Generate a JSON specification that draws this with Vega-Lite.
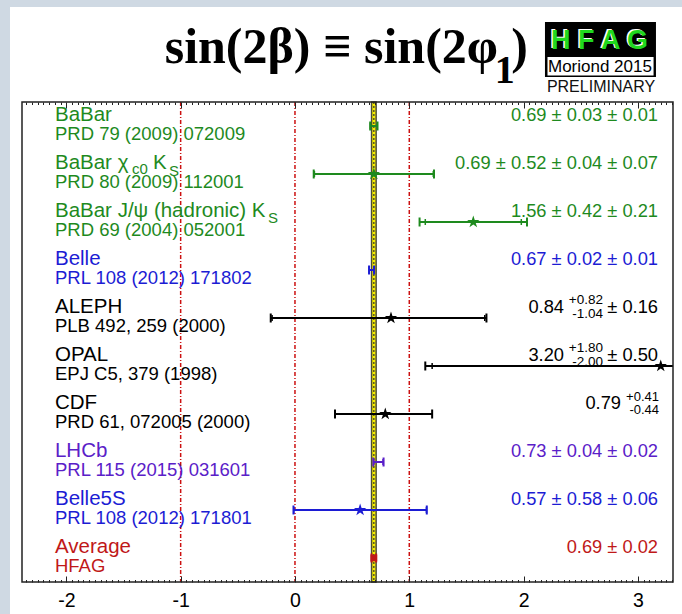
{
  "$schema": "https://vega.github.io/schema/vega-lite/v6.json",
  "width": 651,
  "height": 480,
  "autosize": {"type": "none"},
  "padding": {"left": 22, "top": 102, "right": 9, "bottom": 32},
  "background": "#cfd9e3",
  "config": {"view": {"stroke": null}, "text": {"font": "Liberation Sans"}},
  "data": {
    "values": [
      {"row": 1, "exp": "BaBar", "name": "BaBar", "ref": "PRD 79 (2009) 072009", "value": 0.69, "lo": 0.658, "hi": 0.722, "slo": 0.66, "shi": 0.72, "tail": "0.69 ± 0.03 ± 0.01", "main": "", "ss": "", "n1": "", "n2": "", "n3": ""},
      {"row": 2, "exp": "BaBar", "name": "BaBar χ", "ref": "PRD 80 (2009) 112001", "value": 0.69, "lo": 0.164, "hi": 1.216, "slo": 0.17, "shi": 1.21, "tail": "0.69 ± 0.52 ± 0.04 ± 0.07", "main": "", "ss": "", "n1": "c0", "n2": "K", "n3": "S"},
      {"row": 3, "exp": "BaBar", "name": "BaBar J/ψ (hadronic) K", "ref": "PRD 69 (2004) 052001", "value": 1.56, "lo": 1.09, "hi": 2.03, "slo": 1.14, "shi": 1.98, "tail": "1.56 ± 0.42 ± 0.21", "main": "", "ss": "", "n1": "", "n2": "", "n3": "S"},
      {"row": 4, "exp": "Belle", "name": "Belle", "ref": "PRL 108 (2012) 171802", "value": 0.67, "lo": 0.648, "hi": 0.692, "slo": 0.65, "shi": 0.69, "tail": "0.67 ± 0.02 ± 0.01", "main": "", "ss": "", "n1": "", "n2": "", "n3": ""},
      {"row": 5, "exp": "ALEPH", "name": "ALEPH", "ref": "PLB 492, 259 (2000)", "value": 0.84, "lo": -0.212, "hi": 1.675, "slo": -0.2, "shi": 1.66, "tail": "± 0.16", "main": "0.84", "ss": "+0.82\n-1.04", "n1": "", "n2": "", "n3": ""},
      {"row": 6, "exp": "OPAL", "name": "OPAL", "ref": "EPJ C5, 379 (1998)", "value": 3.2, "lo": 1.14, "hi": 5.07, "slo": 1.2, "shi": 5.0, "tail": "± 0.50", "main": "3.20", "ss": "+1.80\n-2.00", "n1": "", "n2": "", "n3": ""},
      {"row": 7, "exp": "CDF", "name": "CDF", "ref": "PRD 61, 072005 (2000)", "value": 0.79, "lo": 0.35, "hi": 1.2, "slo": null, "shi": null, "tail": "", "main": "0.79", "ss": "+0.41\n-0.44", "n1": "", "n2": "", "n3": ""},
      {"row": 8, "exp": "LHCb", "name": "LHCb", "ref": "PRL 115 (2015) 031601", "value": 0.73, "lo": 0.685, "hi": 0.775, "slo": 0.69, "shi": 0.77, "tail": "0.73 ± 0.04 ± 0.02", "main": "", "ss": "", "n1": "", "n2": "", "n3": ""},
      {"row": 9, "exp": "Belle", "name": "Belle5S", "ref": "PRL 108 (2012) 171801", "value": 0.57, "lo": -0.013, "hi": 1.153, "slo": -0.01, "shi": 1.15, "tail": "0.57 ± 0.58 ± 0.06", "main": "", "ss": "", "n1": "", "n2": "", "n3": ""},
      {"row": 10, "exp": "Average", "name": "Average", "ref": "HFAG", "value": 0.69, "lo": 0.67, "hi": 0.71, "slo": null, "shi": null, "tail": "0.69 ± 0.02", "main": "", "ss": "", "n1": "", "n2": "", "n3": ""}
    ]
  },
  "layer": [
    {
      "data": {"values": [{}]},
      "mark": {"type": "rect", "fill": "#ffffff"},
      "encoding": {
        "x": {"datum": -2.493, "type": "quantitative", "scale": {"domain": [-2.388, 3.307], "nice": false, "zero": false}, "axis": null},
        "x2": {"datum": 3.7},
        "y": {"datum": -1.48, "type": "quantitative", "scale": {"domain": [0.5, 10.5], "reverse": true, "nice": false, "zero": false}, "axis": null},
        "y2": {"datum": 11.5}
      }
    },
    {
      "data": {"values": [{"v": -1}, {"v": 0}, {"v": 1}]},
      "mark": {"type": "rule", "color": "#cc1111", "strokeDash": [4, 2, 1, 2], "strokeWidth": 1.5},
      "encoding": {
        "x": {"field": "v", "type": "quantitative", "axis": {
          "orient": "bottom", "title": null, "tickCount": 120, "domain": false, "grid": false, "zindex": 2,
          "labelExpr": "abs(datum.value - round(datum.value)) < 0.001 ? '' + round(datum.value) : ''",
          "labelOverlap": false, "labelFlush": false, "labelFont": "Liberation Sans", "labelFontSize": 19.5, "labelColor": "#000000", "labelPadding": 15,
          "tickColor": "#222222", "tickWidth": 1,
          "tickSize": {"condition": {"test": "abs(datum.value - round(datum.value)) < 0.001", "value": -6}, "value": -2.5}
        }},
        "y": {"datum": 0.5, "type": "quantitative", "axis": null},
        "y2": {"datum": 10.5}
      }
    },
    {
      "data": {"values": [{}]},
      "mark": {"type": "rect", "fill": "#f7ef00", "stroke": "#4d4d38", "strokeWidth": 1.5},
      "encoding": {
        "x": {"datum": 0.67, "type": "quantitative", "axis": null},
        "x2": {"datum": 0.71},
        "y": {"datum": 0.5, "type": "quantitative", "axis": null},
        "y2": {"datum": 10.5}
      }
    },
    {
      "data": {"values": [{}]},
      "mark": {"type": "rule", "color": "#333333", "strokeDash": [2, 2], "strokeWidth": 1.2},
      "encoding": {
        "x": {"datum": 0.69, "type": "quantitative", "axis": null},
        "y": {"datum": 0.5, "type": "quantitative", "axis": null},
        "y2": {"datum": 10.5}
      }
    },
    {
      "mark": {"type": "rule", "strokeWidth": 2, "clip": true},
      "encoding": {
        "x": {"field": "lo", "type": "quantitative", "axis": {
          "orient": "top", "title": null, "tickCount": 120, "domain": false, "grid": false, "labels": false, "zindex": 2,
          "tickColor": "#222222", "tickWidth": 1,
          "tickSize": {"condition": {"test": "abs(datum.value - round(datum.value)) < 0.001", "value": -6}, "value": -2.5}
        }},
        "x2": {"field": "hi"},
        "y": {"field": "row", "type": "quantitative", "axis": null},
        "color": {"field": "exp", "type": "nominal", "legend": null, "scale": {"domain": ["BaBar", "Belle", "ALEPH", "OPAL", "CDF", "LHCb", "Average"], "range": ["#1e8a1e", "#1c1cd4", "#000000", "#000000", "#000000", "#5a20c8", "#c01818"]}}
      }
    },
    {
      "transform": [{"fold": ["lo", "hi"], "as": ["k", "v"]}],
      "mark": {"type": "tick", "orient": "vertical", "size": 9, "thickness": 2, "opacity": 1, "clip": true},
      "encoding": {
        "x": {"field": "v", "type": "quantitative", "axis": null},
        "y": {"field": "row", "type": "quantitative", "axis": null},
        "color": {"field": "exp", "type": "nominal", "legend": null}
      }
    },
    {
      "transform": [{"filter": "isValid(datum.slo)"}, {"fold": ["slo", "shi"], "as": ["k", "v"]}],
      "mark": {"type": "tick", "orient": "vertical", "size": 6, "thickness": 1.5, "opacity": 1, "clip": true},
      "encoding": {
        "x": {"field": "v", "type": "quantitative", "axis": null},
        "y": {"field": "row", "type": "quantitative", "axis": null},
        "color": {"field": "exp", "type": "nominal", "legend": null}
      }
    },
    {
      "transform": [{"filter": "datum.hi - datum.lo > 0.2"}],
      "mark": {"type": "point", "filled": true, "opacity": 1, "size": 170, "shape": "M0,-1L0.2245,-0.309L0.9511,-0.309L0.3633,0.118L0.5878,0.809L0,0.382L-0.5878,0.809L-0.3633,0.118L-0.9511,-0.309L-0.2245,-0.309Z"},
      "encoding": {
        "x": {"field": "value", "type": "quantitative", "axis": null},
        "y": {"field": "row", "type": "quantitative", "axis": null},
        "color": {"field": "exp", "type": "nominal", "legend": null}
      }
    },
    {
      "transform": [{"filter": "datum.row == 10"}],
      "mark": {"type": "point", "filled": true, "opacity": 1, "size": 45, "shape": "square"},
      "encoding": {
        "x": {"field": "value", "type": "quantitative", "axis": null},
        "y": {"field": "row", "type": "quantitative", "axis": null},
        "color": {"field": "exp", "type": "nominal", "legend": null}
      }
    },
    {
      "mark": {"type": "text", "align": "left", "baseline": "alphabetic", "dy": -5, "fontSize": 20.5},
      "encoding": {
        "x": {"datum": -2.0997, "type": "quantitative", "axis": null},
        "y": {"field": "row", "type": "quantitative", "axis": null},
        "text": {"field": "name"},
        "color": {"field": "exp", "type": "nominal", "legend": null}
      }
    },
    {
      "mark": {"type": "text", "align": "left", "baseline": "alphabetic", "dy": 14, "fontSize": 18.5},
      "encoding": {
        "x": {"datum": -2.0997, "type": "quantitative", "axis": null},
        "y": {"field": "row", "type": "quantitative", "axis": null},
        "text": {"field": "ref"},
        "color": {"field": "exp", "type": "nominal", "legend": null}
      }
    },
    {
      "transform": [{"filter": "datum.row == 2"}],
      "mark": {"type": "text", "align": "left", "baseline": "alphabetic", "dx": 77, "dy": 0, "fontSize": 15},
      "encoding": {
        "x": {"datum": -2.0997, "type": "quantitative", "axis": null},
        "y": {"field": "row", "type": "quantitative", "axis": null},
        "text": {"field": "n1"},
        "color": {"field": "exp", "type": "nominal", "legend": null}
      }
    },
    {
      "transform": [{"filter": "datum.row == 2"}],
      "mark": {"type": "text", "align": "left", "baseline": "alphabetic", "dx": 98, "dy": -5, "fontSize": 20.5},
      "encoding": {
        "x": {"datum": -2.0997, "type": "quantitative", "axis": null},
        "y": {"field": "row", "type": "quantitative", "axis": null},
        "text": {"field": "n2"},
        "color": {"field": "exp", "type": "nominal", "legend": null}
      }
    },
    {
      "transform": [{"filter": "datum.row == 2"}],
      "mark": {"type": "text", "align": "left", "baseline": "alphabetic", "dx": 114, "dy": 2, "fontSize": 15},
      "encoding": {
        "x": {"datum": -2.0997, "type": "quantitative", "axis": null},
        "y": {"field": "row", "type": "quantitative", "axis": null},
        "text": {"field": "n3"},
        "color": {"field": "exp", "type": "nominal", "legend": null}
      }
    },
    {
      "transform": [{"filter": "datum.row == 3"}],
      "mark": {"type": "text", "align": "left", "baseline": "alphabetic", "dx": 213, "dy": 1, "fontSize": 15},
      "encoding": {
        "x": {"datum": -2.0997, "type": "quantitative", "axis": null},
        "y": {"field": "row", "type": "quantitative", "axis": null},
        "text": {"field": "n3"},
        "color": {"field": "exp", "type": "nominal", "legend": null}
      }
    },
    {
      "transform": [{"filter": "datum.tail != ''"}],
      "mark": {"type": "text", "align": "right", "baseline": "alphabetic", "dy": -5, "fontSize": 18.3},
      "encoding": {
        "x": {"datum": 3.176, "type": "quantitative", "axis": null},
        "y": {"field": "row", "type": "quantitative", "axis": null},
        "text": {"field": "tail"},
        "color": {"field": "exp", "type": "nominal", "legend": null}
      }
    },
    {
      "transform": [{"filter": "datum.tail != '' && datum.main != ''"}],
      "mark": {"type": "text", "align": "right", "baseline": "alphabetic", "dx": -94, "dy": -5, "fontSize": 18.3},
      "encoding": {
        "x": {"datum": 3.176, "type": "quantitative", "axis": null},
        "y": {"field": "row", "type": "quantitative", "axis": null},
        "text": {"field": "main"},
        "color": {"field": "exp", "type": "nominal", "legend": null}
      }
    },
    {
      "transform": [{"filter": "datum.tail == '' && datum.main != ''"}],
      "mark": {"type": "text", "align": "right", "baseline": "alphabetic", "dx": -37, "dy": -5, "fontSize": 18.3},
      "encoding": {
        "x": {"datum": 3.176, "type": "quantitative", "axis": null},
        "y": {"field": "row", "type": "quantitative", "axis": null},
        "text": {"field": "main"},
        "color": {"field": "exp", "type": "nominal", "legend": null}
      }
    },
    {
      "transform": [{"filter": "datum.tail != '' && datum.ss != ''"}],
      "mark": {"type": "text", "align": "right", "baseline": "alphabetic", "dx": -55, "dy": -14, "fontSize": 13.5, "lineHeight": 13.5, "lineBreak": "\n"},
      "encoding": {
        "x": {"datum": 3.176, "type": "quantitative", "axis": null},
        "y": {"field": "row", "type": "quantitative", "axis": null},
        "text": {"field": "ss"},
        "color": {"field": "exp", "type": "nominal", "legend": null}
      }
    },
    {
      "transform": [{"filter": "datum.tail == '' && datum.ss != ''"}],
      "mark": {"type": "text", "align": "right", "baseline": "alphabetic", "dx": 1, "dy": -13, "fontSize": 13, "lineHeight": 13, "lineBreak": "\n"},
      "encoding": {
        "x": {"datum": 3.176, "type": "quantitative", "axis": null},
        "y": {"field": "row", "type": "quantitative", "axis": null},
        "text": {"field": "ss"},
        "color": {"field": "exp", "type": "nominal", "legend": null}
      }
    },
    {
      "data": {"values": [{}]},
      "mark": {"type": "rect", "fillOpacity": 0, "stroke": "#222222", "strokeWidth": 1.5},
      "encoding": {
        "x": {"datum": -2.388, "type": "quantitative", "axis": null},
        "x2": {"datum": 3.307},
        "y": {"datum": 0.5, "type": "quantitative", "axis": null},
        "y2": {"datum": 10.5}
      }
    },
    {
      "data": {"values": [{"t": "sin(2β) ≡ sin(2φ"}]},
      "mark": {"type": "text", "align": "right", "baseline": "alphabetic", "font": "Liberation Serif", "fontWeight": "bold", "fontSize": 50, "color": "#000000"},
      "encoding": {
        "x": {"datum": 1.776, "type": "quantitative", "axis": null},
        "y": {"datum": -0.3125, "type": "quantitative", "axis": null},
        "text": {"field": "t"}
      }
    },
    {
      "data": {"values": [{"t": "1"}]},
      "mark": {"type": "text", "align": "center", "baseline": "alphabetic", "font": "Liberation Serif", "fontWeight": "bold", "fontSize": 40, "dy": 20, "color": "#000000"},
      "encoding": {
        "x": {"datum": 1.835, "type": "quantitative", "axis": null},
        "y": {"datum": -0.3125, "type": "quantitative", "axis": null},
        "text": {"field": "t"}
      }
    },
    {
      "data": {"values": [{"t": ")"}]},
      "mark": {"type": "text", "align": "right", "baseline": "alphabetic", "font": "Liberation Serif", "fontWeight": "bold", "fontSize": 50, "color": "#000000"},
      "encoding": {
        "x": {"datum": 2.0385, "type": "quantitative", "axis": null},
        "y": {"datum": -0.3125, "type": "quantitative", "axis": null},
        "text": {"field": "t"}
      }
    },
    {
      "data": {"values": [{}]},
      "mark": {"type": "rect", "fill": "#000000"},
      "encoding": {
        "x": {"datum": 2.187, "type": "quantitative", "axis": null},
        "x2": {"datum": 3.158},
        "y": {"datum": -1.1667, "type": "quantitative", "axis": null},
        "y2": {"datum": -0.0208}
      }
    },
    {
      "data": {"values": [{}]},
      "mark": {"type": "rect", "fill": "#ffffff"},
      "encoding": {
        "x": {"datum": 2.209, "type": "quantitative", "axis": null},
        "x2": {"datum": 3.137},
        "y": {"datum": -0.4375, "type": "quantitative", "axis": null},
        "y2": {"datum": -0.052}
      }
    },
    {
      "data": {"values": [{"t": "H F A G"}]},
      "mark": {"type": "text", "align": "center", "baseline": "alphabetic", "fontWeight": "bold", "fontSize": 27, "dx": -1.5, "dy": -1, "color": "#ffffff"},
      "encoding": {
        "x": {"datum": 2.664, "type": "quantitative", "axis": null},
        "y": {"datum": -0.598, "type": "quantitative", "axis": null},
        "text": {"field": "t"}
      }
    },
    {
      "data": {"values": [{"t": "H F A G"}]},
      "mark": {"type": "text", "align": "center", "baseline": "alphabetic", "fontWeight": "bold", "fontSize": 27, "color": "#1fd81f"},
      "encoding": {
        "x": {"datum": 2.664, "type": "quantitative", "axis": null},
        "y": {"datum": -0.598, "type": "quantitative", "axis": null},
        "text": {"field": "t"}
      }
    },
    {
      "data": {"values": [{"t": "Moriond 2015"}]},
      "mark": {"type": "text", "align": "center", "baseline": "alphabetic", "fontSize": 17, "color": "#000000"},
      "encoding": {
        "x": {"datum": 2.668, "type": "quantitative", "axis": null},
        "y": {"datum": -0.131, "type": "quantitative", "axis": null},
        "text": {"field": "t"}
      }
    },
    {
      "data": {"values": [{"t": "PRELIMINARY"}]},
      "mark": {"type": "text", "align": "center", "baseline": "alphabetic", "fontSize": 16, "color": "#111111"},
      "encoding": {
        "x": {"datum": 2.677, "type": "quantitative", "axis": null},
        "y": {"datum": 0.285, "type": "quantitative", "axis": null},
        "text": {"field": "t"}
      }
    }
  ],
  "resolve": {"axis": {"x": "independent", "y": "independent"}}
}
